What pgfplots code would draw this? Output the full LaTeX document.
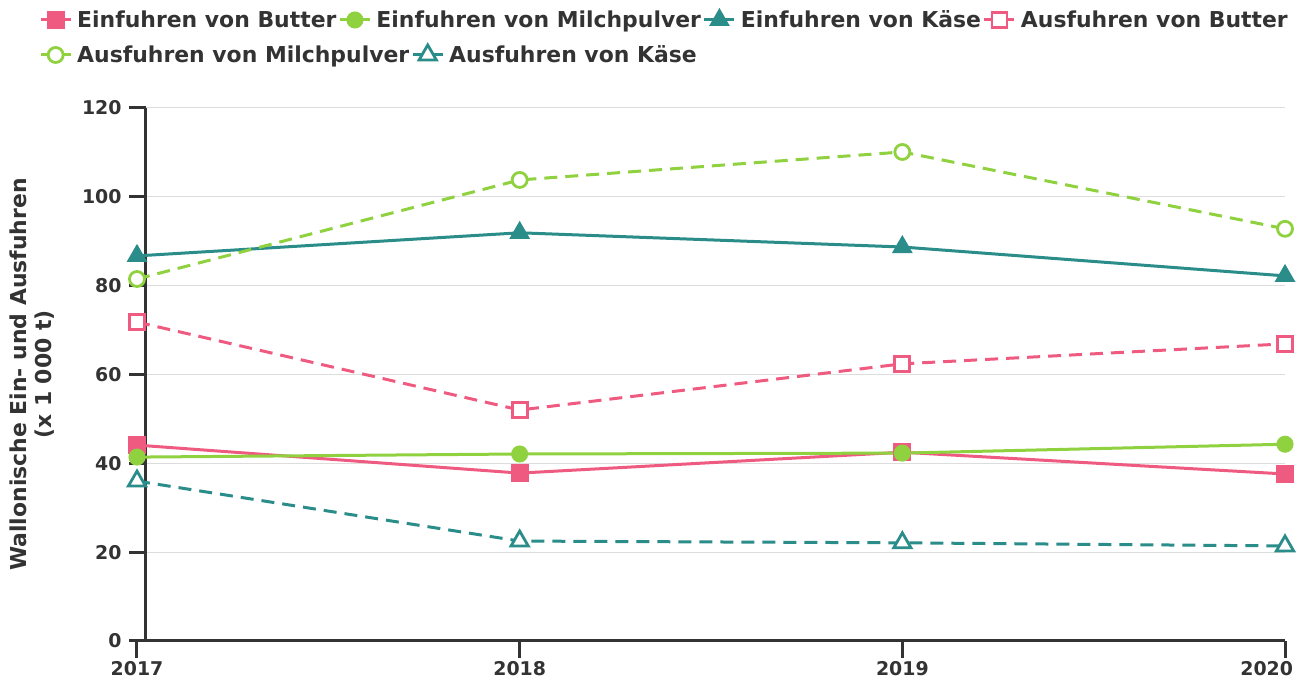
\documentclass[border=0pt]{standalone}
\usepackage{fontspec}
\setmainfont{DejaVu Sans}
\usepackage{pgfplots}
\pgfplotsset{compat=1.18}
\definecolor{cpink}{HTML}{EF5B80}
\definecolor{cgreen}{HTML}{8FD13F}
\definecolor{cteal}{HTML}{2A8D8A}
\definecolor{ctext}{HTML}{333333}
\definecolor{cgrid}{HTML}{DDDDDD}
\pgfplotsset{
  mylegend/.style={
    legend style={draw=none, fill=none, font=\bfseries\fontsize{22}{26}\selectfont, text=ctext,
      nodes={inner xsep=2bp, inner ysep=1bp}, /tikz/every odd column/.append style={column sep=3bp}},
    legend image code/.code={\draw[mark repeat=2,mark phase=2,##1] plot coordinates {(0bp,0bp) (15bp,0bp) (30bp,0bp)};},
  },
  einB/.style={cpink, line width=3bp, mark=square*, mark size=7.5bp, mark options={solid, fill=cpink}},
  einM/.style={cgreen, line width=3bp, mark=*, mark size=7bp, mark options={solid, fill=cgreen}},
  einK/.style={cteal, line width=3bp, mark=triangle*, mark size=9bp, mark options={solid, fill=cteal}},
  ausB/.style={cpink, line width=3bp, dash pattern=on 13bp off 8bp, mark=square*, mark size=7.5bp, mark options={solid, fill=white, line width=2.8bp}},
  ausM/.style={cgreen, line width=3bp, dash pattern=on 13bp off 8bp, mark=*, mark size=7.5bp, mark options={solid, fill=white, line width=2.8bp}},
  ausK/.style={cteal, line width=3bp, dash pattern=on 13bp off 8bp, mark=triangle*, mark size=10bp, mark options={solid, fill=white, line width=2.8bp}},
}
\begin{document}
\begin{tikzpicture}[x=1bp,y=1bp]
\path[use as bounding box] (-137,-40) rectangle (1160,641);
\begin{axis}[
  at={(0,0)}, anchor=south west,
  scale only axis, width=1148bp, height=533bp,
  xmin=2017, xmax=2020, ymin=0, ymax=120,
  xtick={2017,2018,2019,2020}, ytick={0,20,...,120},
  xticklabels={2017,2018,2019,\makebox[0pt][r]{2020\hspace{-8bp}}},
  /pgf/number format/assume math mode=true,
  ticklabel style={font=\bfseries\fontsize{19}{22}\selectfont, text=ctext},
  yticklabel style={xshift=-4bp},
  ymajorgrids, grid style={cgrid, line width=1bp},
  axis x line*=bottom, axis y line*=left,
  axis y line shift=-9bp,
  axis line style={ctext, line width=3bp, -},
  every outer x axis line/.append style={ctext, line width=3bp},
  every outer y axis line/.append style={ctext, line width=3bp},
  tick align=outside, major tick length=17bp,
  major tick style={ctext, line width=3bp},
  ylabel={Wallonische Ein- und Ausfuhren\\(x 1 000 t)},
  ylabel style={at={(axis description cs:-0.0915,0.5)}, anchor=center, align=center,
    font=\bfseries\fontsize{22}{25}\selectfont, text=ctext},
  mylegend,
  legend columns=4,
  legend style={at={(axis description cs:0,1)}, anchor=west, xshift=-101bp, yshift=88bp},
  clip=false,
]
\addplot[einB] coordinates {(2017,44.1) (2018,37.8) (2019,42.5) (2020,37.6)};
\addlegendentry{Einfuhren von Butter}
\addplot[einM] coordinates {(2017,41.4) (2018,42.1) (2019,42.3) (2020,44.3)};
\addlegendentry{Einfuhren von Milchpulver}
\addplot[einK] coordinates {(2017,86.7) (2018,91.9) (2019,88.7) (2020,82.2)};
\addlegendentry{Einfuhren von Käse}
\addplot[ausB] coordinates {(2017,71.8) (2018,52.0) (2019,62.4) (2020,66.9)};
\addlegendentry{Ausfuhren von Butter}
\addplot[ausM, forget plot] coordinates {(2017,81.5) (2018,103.8) (2019,110.1) (2020,92.8)};
\addplot[ausK, forget plot] coordinates {(2017,36.0) (2018,22.5) (2019,22.1) (2020,21.4)};
\end{axis}
\begin{axis}[
  at={(0,0)}, anchor=south west,
  scale only axis, width=1148bp, height=533bp,
  xmin=2017, xmax=2020, ymin=0, ymax=120,
  hide axis,
  mylegend,
  legend columns=2,
  legend style={at={(axis description cs:0,1)}, anchor=west, xshift=-101bp, yshift=53bp},
]
\addlegendimage{ausM}
\addlegendentry{Ausfuhren von Milchpulver}
\addlegendimage{ausK}
\addlegendentry{Ausfuhren von Käse}
\end{axis}
\end{tikzpicture}
\end{document}
